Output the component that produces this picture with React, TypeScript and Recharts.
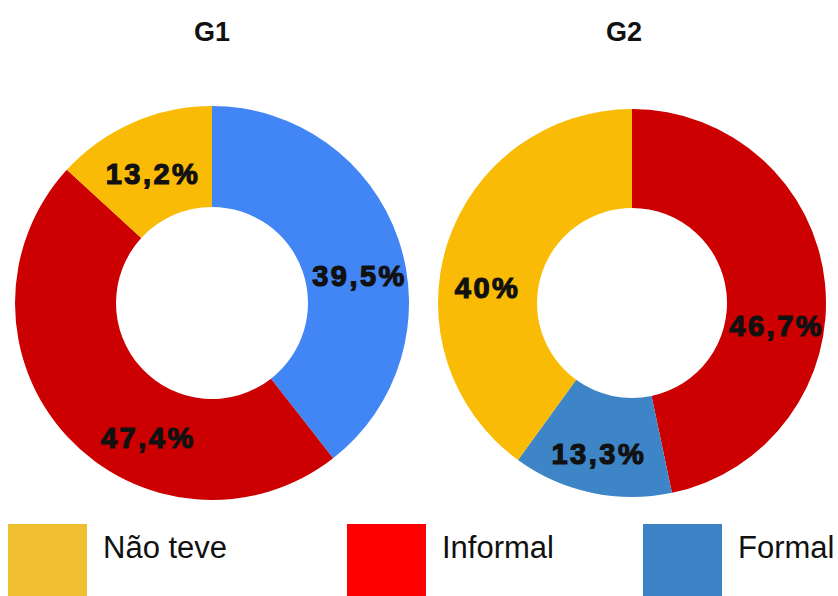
import { PieChart, Pie, Cell } from 'recharts';

// G1 slices, clockwise from 12 o'clock
const g1Names = ['Formal', 'Informal', 'Não teve'];
const g1Values = [39.5, 47.4, 13.2];
const g1Labels = ['39,5%', '47,4%', '13,2%'];
const g1Colors = ['#4285f4', '#cc0000', '#f9bb05'];

// G2 slices, clockwise from 12 o'clock
const g2Names = ['Informal', 'Formal', 'Não teve'];
const g2Values = [46.7, 13.3, 40];
const g2Labels = ['46,7%', '13,3%', '40%'];
const g2Colors = ['#cc0000', '#3d85c6', '#f9bb05'];

const titles = ['G1', 'G2'];

const legendNames = ['Não teve', 'Informal', 'Formal'];
const legendColors = ['#f0bf31', '#ff0000', '#3d82c4'];

// label nudges off the ring midline, px
const g1Nudge = [[9, 21], [44, 36], [0, 5]];
const g2Nudge = [[1, 38], [-3, 10], [-7, 30]];

const RAD = Math.PI / 180;
const FONT = '"Liberation Sans", Arial, sans-serif';

const g1Data = g1Names.map((name, i) => ({ name, value: g1Values[i], label: g1Labels[i] }));
const g2Data = g2Names.map((name, i) => ({ name, value: g2Values[i], label: g2Labels[i] }));

function makeLabel(nudge: number[][]) {
  return (props: any) => {
    const { cx, cy, midAngle, innerRadius, outerRadius, index, payload } = props;
    const r = (innerRadius + outerRadius) / 2;
    const x = cx + r * Math.cos(-midAngle * RAD) + nudge[index][0];
    const y = cy + r * Math.sin(-midAngle * RAD) + nudge[index][1];
    return (
      <text
        x={x}
        y={y}
        textAnchor="middle"
        dominantBaseline="central"
        fill="#111"
        stroke="#111"
        strokeWidth={1.2}
        letterSpacing={2.5}
        fontFamily={FONT}
        fontWeight="bold"
        fontSize={29}
      >
        {payload?.label ?? props.label}
      </text>
    );
  };
}

const titleStyle = {
  position: 'absolute' as const,
  top: 17,
  width: 100,
  textAlign: 'center' as const,
  fontFamily: FONT,
  fontWeight: 'bold' as const,
  fontSize: 27,
  color: '#111',
};

export default function App() {
  return (
    <div style={{ position: 'absolute', left: 0, top: 0, width: 838, height: 596, background: '#fff', overflow: 'hidden' }}>
      <div style={{ ...titleStyle, left: 162 }}>{titles[0]}</div>
      <div style={{ ...titleStyle, left: 574 }}>{titles[1]}</div>

      <PieChart
        width={838}
        height={596}
        margin={{ top: 0, right: 0, bottom: 0, left: 0 }}
        style={{ position: 'absolute', left: 0, top: 0 }}
      >
        <Pie
          data={g1Data}
          dataKey="value"
          nameKey="name"
          cx={212}
          cy={303}
          innerRadius={96}
          outerRadius={197}
          startAngle={90}
          endAngle={-270}
          stroke="none"
          labelLine={false}
          label={makeLabel(g1Nudge)}
          isAnimationActive={false}
        >
          {g1Data.map((d, i) => (
            <Cell key={d.name} fill={g1Colors[i]} />
          ))}
        </Pie>
        <Pie
          data={g2Data}
          dataKey="value"
          nameKey="name"
          cx={632}
          cy={303}
          innerRadius={95}
          outerRadius={194}
          startAngle={90}
          endAngle={-270}
          stroke="none"
          labelLine={false}
          label={makeLabel(g2Nudge)}
          isAnimationActive={false}
        >
          {g2Data.map((d, i) => (
            <Cell key={d.name} fill={g2Colors[i]} />
          ))}
        </Pie>
      </PieChart>

      {legendNames.map((name, i) => {
        const left = [8, 347, 643][i];
        return (
          <div key={name} style={{ position: 'absolute', left, top: 524 }}>
            <div style={{ position: 'absolute', left: 0, top: 0, width: 79, height: 80, background: legendColors[i] }} />
            <div
              style={{
                position: 'absolute',
                left: 95,
                top: 6,
                fontFamily: FONT,
                fontSize: 31,
                color: '#111',
                whiteSpace: 'nowrap',
              }}
            >
              {name}
            </div>
          </div>
        );
      })}
    </div>
  );
}
